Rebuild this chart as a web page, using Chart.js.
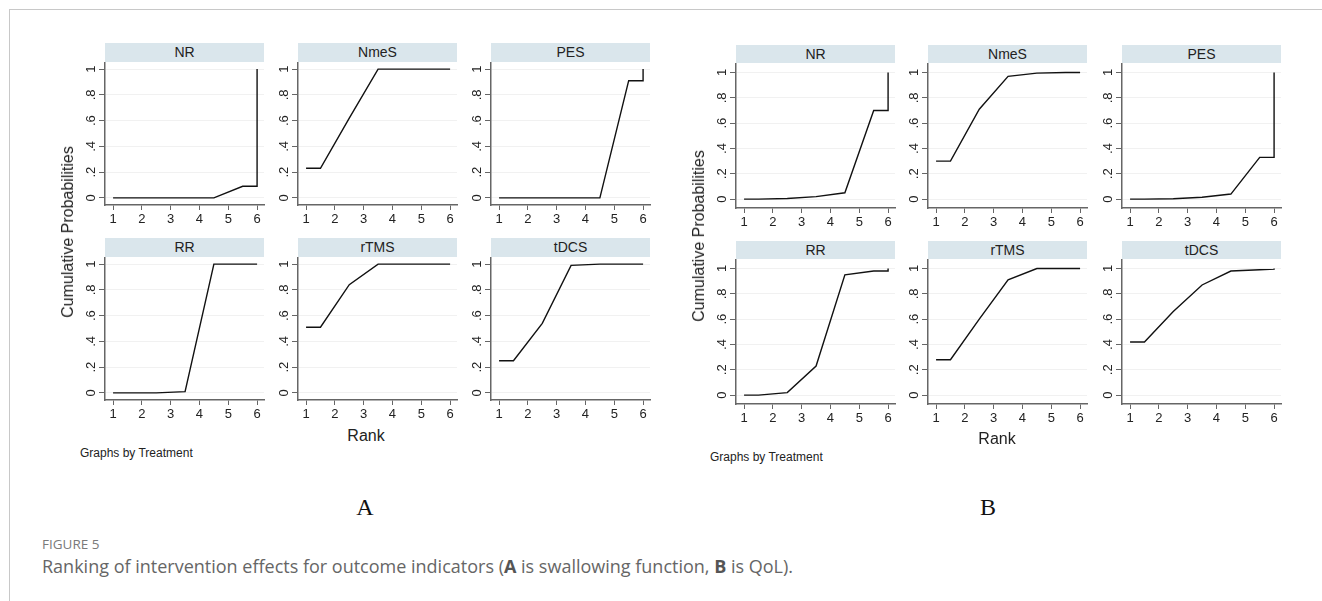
<!DOCTYPE html>
<html>
<head>
<meta charset="utf-8">
<script src="https://cdn.jsdelivr.net/npm/chart.js@4.4.0/dist/chart.umd.min.js"></script>
<style>
body { margin: 0; background: #fff; width: 1322px; height: 601px; position: relative; overflow: hidden; font-family: "Liberation Sans", Arial, sans-serif; }
.frame { position: absolute; left: 9px; top: 9px; right: -5px; bottom: -5px; border-left: 1.5px solid #c8c8c8; border-top: 1.5px solid #c8c8c8; }
.strip { position: absolute; background: #dae6ec; color: #222; font-size: 14px; text-align: center; }
canvas { position: absolute; }
.lbl { position: absolute; white-space: nowrap; color: #222; }
.vert { transform: translate(-50%, -50%) rotate(-90deg); font-size: 16px; }
.rank { transform: translate(-50%, -50%); font-size: 16px; }
.note { transform: translateY(-50%); font-size: 12px; }
.panelTitle { transform: translate(-50%, -50%); font-family: "Liberation Serif", "Times New Roman", serif; font-size: 24px; color: #111; }
.figNum { position: absolute; left: 42px; top: 535px; font-family: "Open Sans", sans-serif; font-size: 13.5px; color: #7a7a7a; }
.caption { position: absolute; left: 42px; top: 554px; font-family: "Open Sans", sans-serif; font-size: 18px; color: #666; }
.caption b { color: #555; }
</style>
</head>
<body>
<div class="frame"></div>
<div id="panels"></div>

<div class="lbl vert" style="left:68px; top:232px;">Cumulative Probabilities</div>
<div class="lbl rank" style="left:366px; top:436px;">Rank</div>
<div class="lbl note" style="left:80px; top:453px;">Graphs by Treatment</div>
<div class="lbl panelTitle" style="left:365px; top:507px;">A</div>

<div class="lbl vert" style="left:699px; top:236px;">Cumulative Probabilities</div>
<div class="lbl rank" style="left:997px; top:439px;">Rank</div>
<div class="lbl note" style="left:710px; top:457px;">Graphs by Treatment</div>
<div class="lbl panelTitle" style="left:988px; top:507px;">B</div>

<div class="figNum">FIGURE 5</div>
<div class="caption">Ranking of intervention effects for outcome indicators (<b>A</b> is swallowing function, <b>B</b> is QoL).</div>

<script>
// stata draws each cumulative curve at these rank positions
const rankPos = [1, 1.5, 2.5, 3.5, 4.5, 5.5, 6, 6]
const treatments = ["NR", "NmeS", "PES", "RR", "rTMS", "tDCS"]
const xTicks = [1, 2, 3, 4, 5, 6]
const xTickLabels = ["1", "2", "3", "4", "5", "6"]
const yTicks = [0, 0.2, 0.4, 0.6, 0.8, 1]
const yTickLabels = ["0", ".2", ".4", ".6", ".8", "1"]

// A - swallowing function
const swallowNR = [0, 0, 0, 0, 0, 0.09, 0.09, 1]
const swallowNmeS = [0.23, 0.23, 0.62, 1, 1, 1, 1, 1]
const swallowPES = [0, 0, 0, 0, 0, 0.91, 0.91, 1]
const swallowRR = [0, 0, 0, 0.01, 1, 1, 1, 1]
const swallowRTMS = [0.51, 0.51, 0.84, 1, 1, 1, 1, 1]
const swallowTDCS = [0.25, 0.25, 0.54, 0.99, 1, 1, 1, 1]

// B - QoL
const qolNR = [0, 0, 0.005, 0.02, 0.05, 0.70, 0.70, 1]
const qolNmeS = [0.30, 0.30, 0.71, 0.97, 0.995, 1, 1, 1]
const qolPES = [0, 0, 0.003, 0.015, 0.04, 0.33, 0.33, 1]
const qolRR = [0, 0, 0.02, 0.23, 0.95, 0.98, 0.98, 1]
const qolRTMS = [0.28, 0.28, 0.60, 0.91, 1, 1, 1, 1]
const qolTDCS = [0.42, 0.42, 0.66, 0.87, 0.98, 0.99, 0.995, 1]

const swallowing = [swallowNR, swallowNmeS, swallowPES, swallowRR, swallowRTMS, swallowTDCS]
const qol = [qolNR, qolNmeS, qolPES, qolRR, qolRTMS, qolTDCS]

const figA = { cols: [105, 298, 491], rows: [43, 238], stripH: 19, plotW: 159, plotH: 143, yMin: -0.055, yMax: 1.055 }
const figB = { cols: [736, 928, 1122], rows: [45, 241], stripH: 18, plotW: 159, plotH: 145, yMin: -0.07, yMax: 1.075 }

const fontFamily = '"Liberation Sans", Arial, sans-serif'
const axisColor = "#666"
const holder = document.getElementById("panels")

const yLabelPlugin = {
    id: "yLabels",
    afterDraw(chart) {
        const s = chart.scales.y
        const ctx = chart.ctx
        ctx.save()
        ctx.font = "13px " + fontFamily
        ctx.fillStyle = "#222"
        ctx.textAlign = "center"
        ctx.textBaseline = "middle"
        yTicks.forEach((v, i) => {
            ctx.save()
            ctx.translate(s.right - 14, s.getPixelForValue(v))
            ctx.rotate(-Math.PI / 2)
            ctx.fillText(yTickLabels[i], 0, 0)
            ctx.restore()
        })
        ctx.restore()
    }
}

const makePanel = (fig, index, name, values) => {
    const col = index % 3
    const row = Math.floor(index / 3)
    const left = fig.cols[col]
    const stripTop = fig.rows[row]
    const plotTop = stripTop + fig.stripH

    const strip = document.createElement("div")
    strip.className = "strip"
    strip.style.left = left + "px"
    strip.style.top = stripTop + "px"
    strip.style.width = fig.plotW + "px"
    strip.style.height = fig.stripH + "px"
    strip.style.lineHeight = fig.stripH + "px"
    strip.textContent = name
    holder.appendChild(strip)

    const canvas = document.createElement("canvas")
    canvas.width = fig.plotW + 34
    canvas.height = fig.plotH + 26
    canvas.style.left = (left - 32) + "px"
    canvas.style.top = plotTop + "px"
    holder.appendChild(canvas)

    new Chart(canvas.getContext("2d"), {
        type: "line",
        data: {
            datasets: [{
                data: rankPos.map((x, i) => ({ x: x, y: values[i] })),
                borderColor: "#111",
                borderWidth: 1.4,
                pointRadius: 0,
                tension: 0,
                clip: false
            }]
        },
        options: {
            responsive: false,
            animation: false,
            layout: { padding: { left: 0, right: 2, top: 0, bottom: 0 } },
            plugins: { legend: { display: false }, tooltip: { enabled: false } },
            scales: {
                x: {
                    type: "linear",
                    min: 0.72,
                    max: 6.24,
                    afterBuildTicks: s => { s.ticks = xTicks.map(v => ({ value: v })) },
                    afterFit: s => { s.height = 26 },
                    ticks: {
                        callback: (v, i) => xTickLabels[i],
                        font: { size: 13, family: fontFamily },
                        color: "#222",
                        padding: 2,
                        maxRotation: 0,
                        autoSkip: false
                    },
                    grid: { drawOnChartArea: false, tickLength: 5, tickColor: axisColor, tickWidth: 1 },
                    border: { color: axisColor, width: 1.5 }
                },
                y: {
                    type: "linear",
                    min: fig.yMin,
                    max: fig.yMax,
                    afterBuildTicks: s => { s.ticks = yTicks.map(v => ({ value: v })) },
                    afterFit: s => { s.width = 32 },
                    ticks: { display: false },
                    grid: { color: "#f1f1f1", lineWidth: 1, tickLength: 6, tickColor: axisColor, tickWidth: 1 },
                    border: { color: axisColor, width: 1.5 }
                }
            }
        },
        plugins: [yLabelPlugin]
    })
}

treatments.forEach((name, i) => makePanel(figA, i, name, swallowing[i]))
treatments.forEach((name, i) => makePanel(figB, i, name, qol[i]))
</script>
</body>
</html>
